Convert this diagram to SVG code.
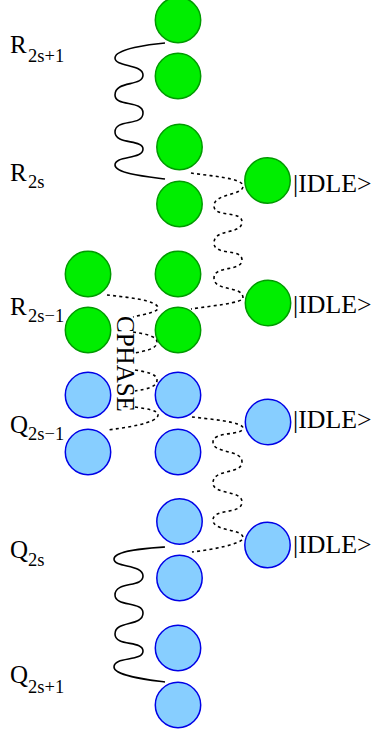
<svg xmlns="http://www.w3.org/2000/svg" width="371" height="734" viewBox="0 0 371 734">
<style>
.g{fill:#00ee00;stroke:#009a00;stroke-width:1.5}
.b{fill:#87ceff;stroke:#0000e6;stroke-width:1.5}
.s{fill:none;stroke:#000;stroke-width:1.6}
.d{fill:none;stroke:#000;stroke-width:1.6;stroke-dasharray:3 3.2}
text{font-family:"Liberation Serif","Times New Roman",serif;font-size:25px;fill:#000}
.idle{font-size:25.8px}
.sub{font-size:18.5px}
</style>
<rect width="371" height="734" fill="#fff"/>
<g id="connectors">
<path class="s" d="M165,43C150,44 115,49 115,58C115,67 143,64 143,75C143,87 115,80 115,95C115,107 143,100 143,113C143,127 115,118 115,132C115,145 143,139 143,149C143,160 115,155 115,165C115,174 150,177 165,179"/>
<path class="s" d="M165,547C150,548 114,550 114,559C114,568 143,564 143,576C143,588 115,581 115,595C115,607 143,601 143,613C143,627 115,620 115,634C115,647 143,640 143,651C143,662 114,656 114,667C114,676 150,680 165,682"/>
<path class="d" d="M191,173C210,176 243,178 243,186C243,196 214,193 214,206C214,218 242,210 242,222C242,235 214,228 214,243C214,256 242,248 242,260C242,272 214,265 214,278C214,292 243,285 243,298C243,303 210,306 191,309"/>
<path class="d" d="M192,417C210,419 243,422 243,428C243,436 213,431 213,442C213,454 242,449 242,462C242,475 213,468 213,483C213,495 242,490 242,502C242,515 213,508 213,520C213,532 243,528 243,538C243,544 210,550 192,552"/>
<path class="d" d="M107,295C125,297 158,300 158,308C158,312 145,314 133,317"/>
<path class="d" d="M133,332C145,334 157,336 157,342C157,349 145,351 135,353"/>
<path class="d" d="M135,370C147,372 157,374 157,380C157,387 147,389 135,391"/>
<path class="d" d="M135,407C147,409 158,410 158,415C158,423 125,428 107,430"/>
</g>
<g id="n1"><circle class="g" cx="178" cy="20" r="22.7"/></g>
<g id="n2"><circle class="g" cx="178" cy="76" r="22.7"/></g>
<g id="n3"><circle class="g" cx="179.5" cy="147" r="22.7"/></g>
<g id="n4"><circle class="g" cx="179.5" cy="204" r="22.7"/></g>
<g id="n5"><circle class="g" cx="267.5" cy="180.5" r="22.7"/></g>
<g id="n6"><circle class="g" cx="88" cy="274" r="22.7"/></g>
<g id="n7"><circle class="g" cx="178" cy="274" r="22.7"/></g>
<g id="n8"><circle class="g" cx="88" cy="330" r="22.7"/></g>
<g id="n9"><circle class="g" cx="178" cy="330" r="22.7"/></g>
<g id="n10"><circle class="g" cx="268" cy="303" r="22.7"/></g>
<g id="n11"><circle class="b" cx="88" cy="395" r="22.7"/></g>
<g id="n12"><circle class="b" cx="178" cy="395" r="22.7"/></g>
<g id="n13"><circle class="b" cx="88" cy="452" r="22.7"/></g>
<g id="n14"><circle class="b" cx="178" cy="452" r="22.7"/></g>
<g id="n15"><circle class="b" cx="268" cy="422" r="22.7"/></g>
<g id="n16"><circle class="b" cx="179.5" cy="521.5" r="22.7"/></g>
<g id="n17"><circle class="b" cx="179.5" cy="578" r="22.7"/></g>
<g id="n18"><circle class="b" cx="178" cy="648" r="22.7"/></g>
<g id="n19"><circle class="b" cx="178" cy="705" r="22.7"/></g>
<g id="n20"><circle class="b" cx="267.5" cy="545" r="22.7"/></g>
<g id="labels">
<text x="10" y="53">R</text><text class="sub" x="28" y="62">2s+1</text>
<text x="10" y="181">R</text><text class="sub" x="28" y="188">2s</text>
<text x="10" y="315">R</text><text class="sub" x="28" y="322">2s−1</text>
<text x="10" y="433">Q</text><text class="sub" x="28" y="440">2s−1</text>
<text x="10" y="558">Q</text><text class="sub" x="28" y="566">2s</text>
<text x="10" y="683">Q</text><text class="sub" x="28" y="693">2s+1</text>
<text class="idle" x="293" y="192">|IDLE&gt;</text>
<text class="idle" x="293" y="313">|IDLE&gt;</text>
<text class="idle" x="293" y="428">|IDLE&gt;</text>
<text class="idle" x="293" y="553">|IDLE&gt;</text>
<text transform="translate(117,316) rotate(90)">CPHASE</text>
</g>
</svg>
